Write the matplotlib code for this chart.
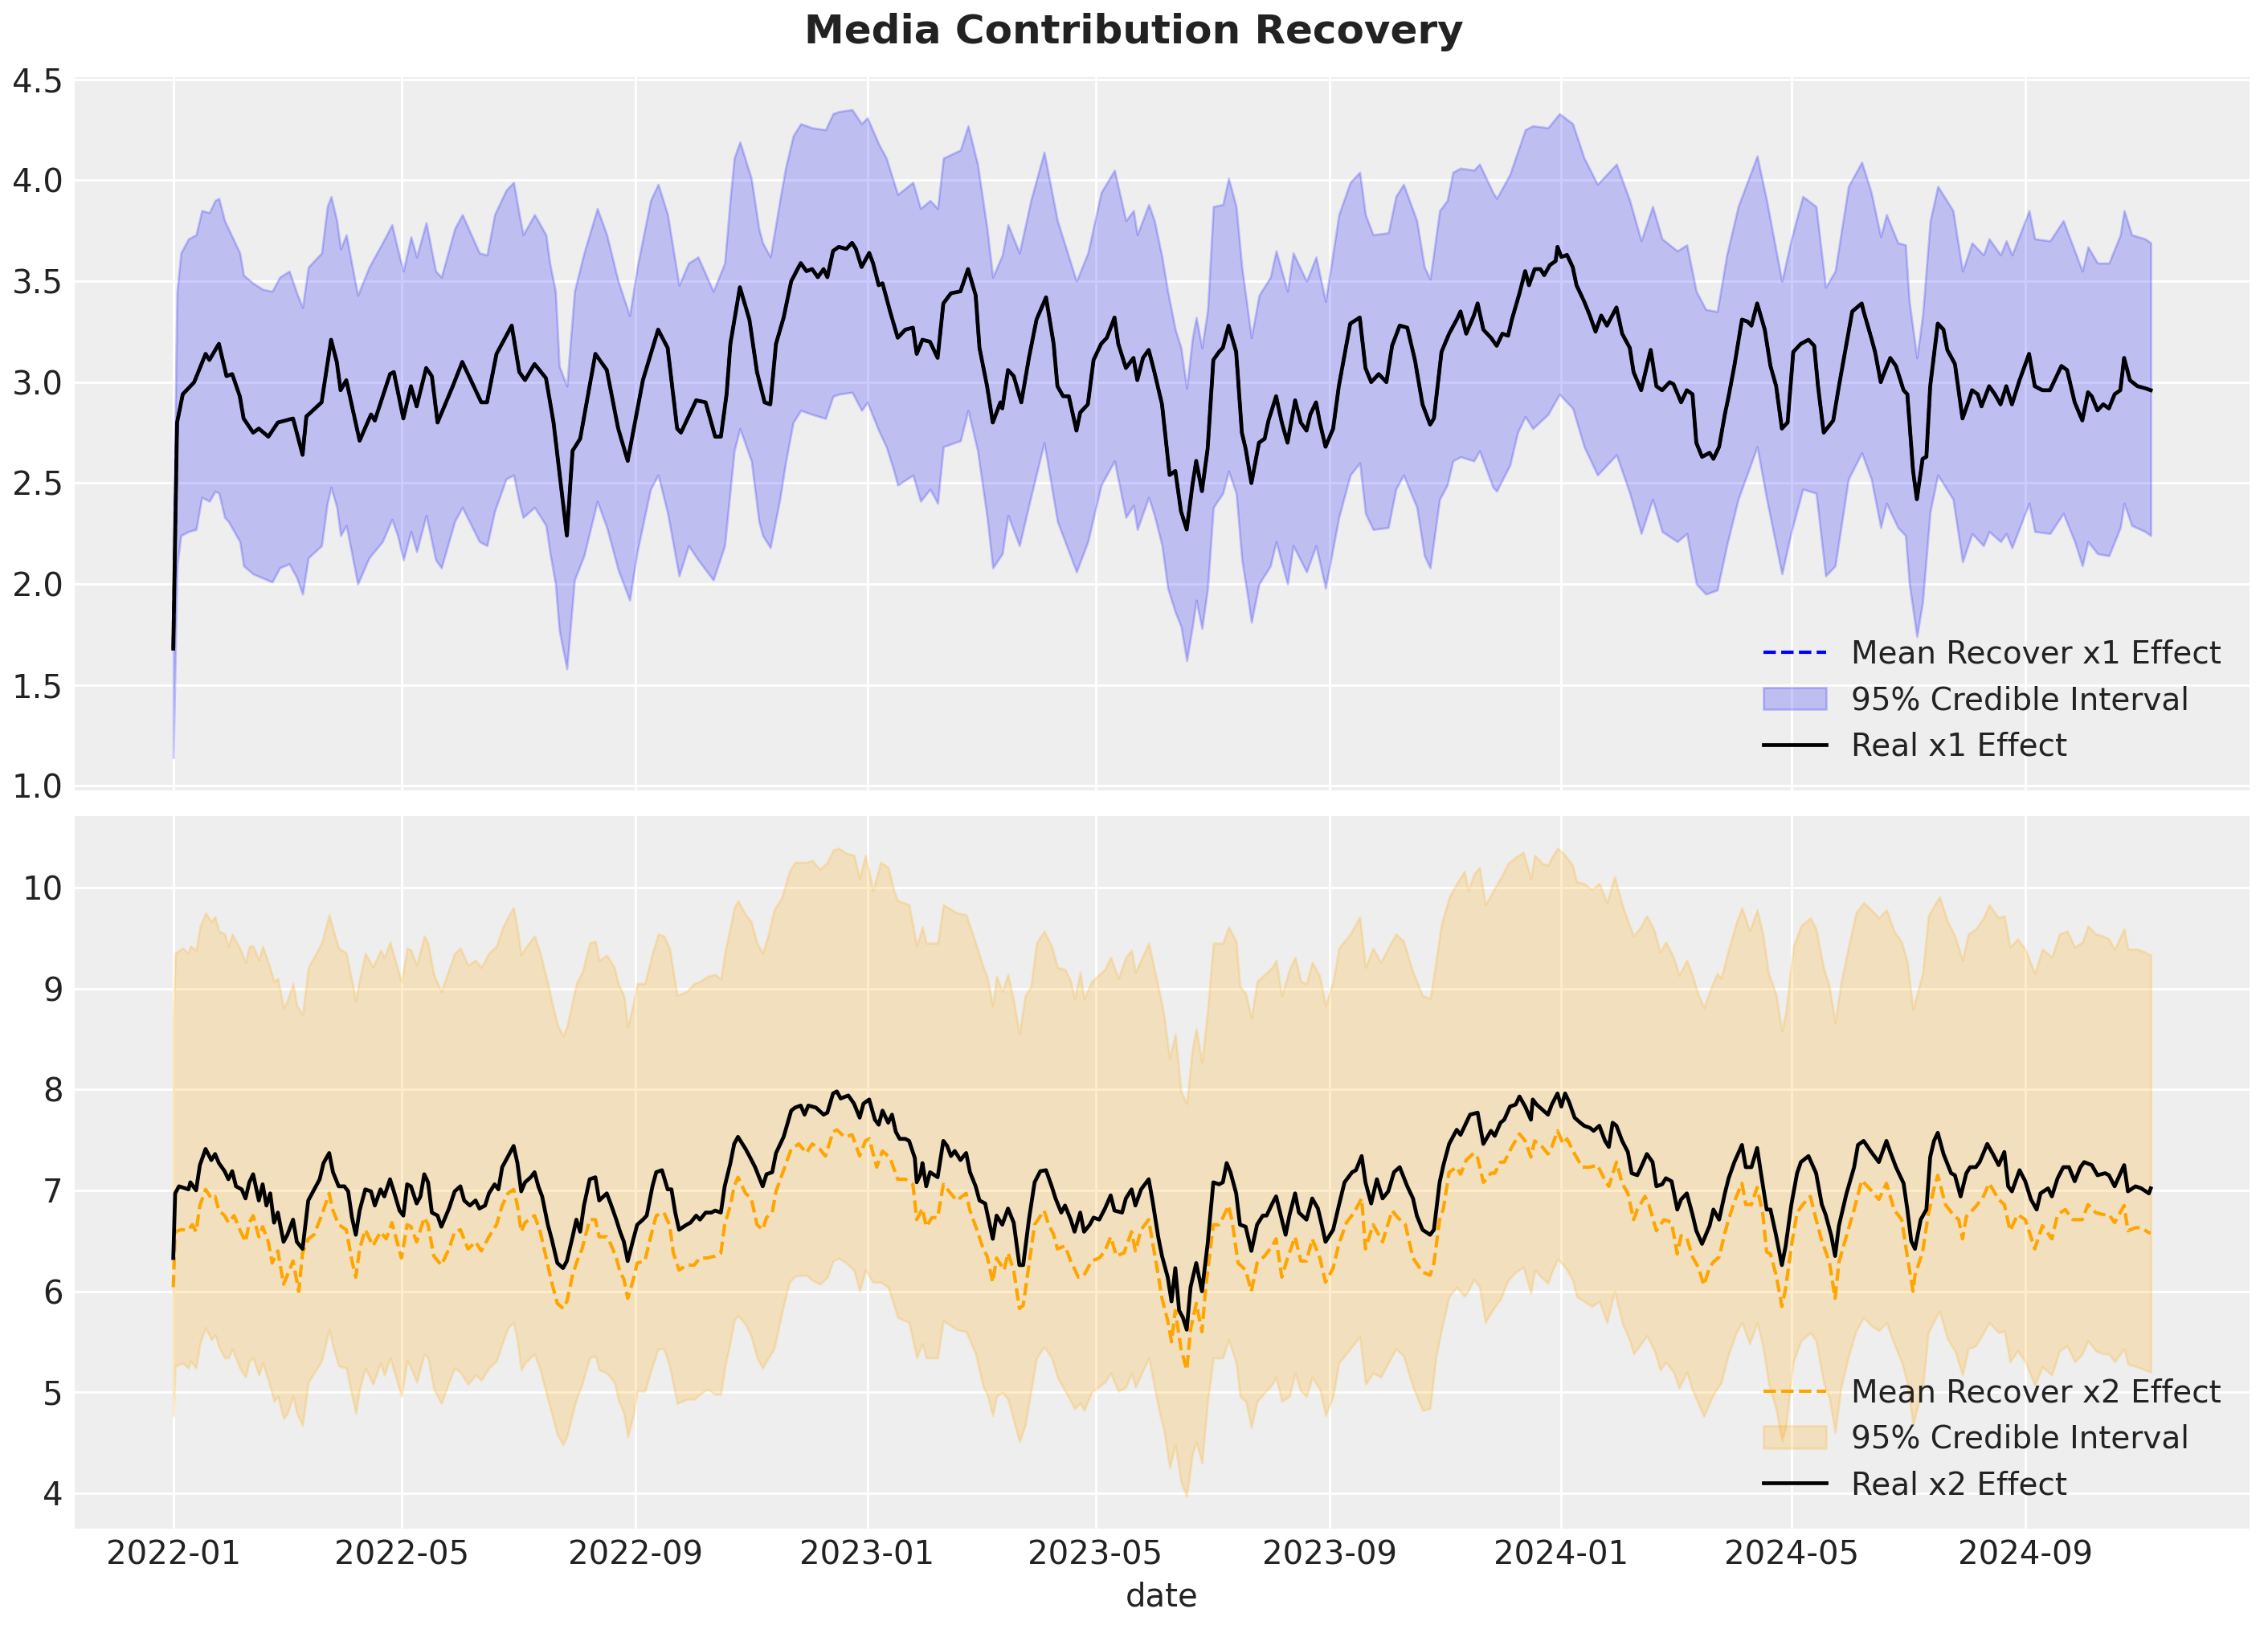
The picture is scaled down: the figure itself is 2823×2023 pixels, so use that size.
import numpy as np
import matplotlib
matplotlib.use("Agg")
import matplotlib.pyplot as plt
import matplotlib.dates as mdates

# values: (day since 2022-01-01, value)
start_date = np.datetime64("2022-01-01")

x1_real = [
    (0, 1.68), (2, 2.80), (5, 2.94), (11, 3.00), (17, 3.14), (19, 3.11), (24, 3.19), (28, 3.03),
    (31, 3.04), (35, 2.93), (37, 2.82), (42, 2.75), (45, 2.77), (50, 2.73), (55, 2.80), (63, 2.82),
    (68, 2.64), (70, 2.83), (78, 2.90), (83, 3.21), (86, 3.10), (88, 2.96), (91, 3.01), (98, 2.71),
    (104, 2.84), (106, 2.81), (114, 3.04), (116, 3.05), (121, 2.82), (125, 2.98), (128, 2.88),
    (133, 3.07), (136, 3.03), (139, 2.80), (147, 2.98), (152, 3.10), (162, 2.90), (165, 2.90),
    (170, 3.14), (178, 3.28), (182, 3.05), (185, 3.01), (190, 3.09), (196, 3.02), (200, 2.80),
    (207, 2.24), (210, 2.66), (214, 2.72), (222, 3.14), (228, 3.06), (234, 2.77), (239, 2.61),
    (247, 3.01), (255, 3.26), (260, 3.17), (265, 2.77), (267, 2.75), (275, 2.91), (280, 2.90),
    (285, 2.73), (288, 2.73), (291, 2.94), (293, 3.19), (298, 3.47), (303, 3.31), (307, 3.05),
    (311, 2.90), (314, 2.89), (317, 3.19), (321, 3.32), (325, 3.50), (330, 3.59), (333, 3.55),
    (336, 3.56), (339, 3.52), (342, 3.56), (344, 3.52), (347, 3.65), (350, 3.67), (354, 3.66),
    (357, 3.69), (359, 3.66), (362, 3.57), (366, 3.64), (368, 3.59), (371, 3.48), (373, 3.49),
    (377, 3.35), (381, 3.22), (385, 3.26), (389, 3.27), (391, 3.14), (394, 3.21), (398, 3.20),
    (402, 3.12), (405, 3.39), (409, 3.44), (414, 3.45), (418, 3.56), (422, 3.43), (424, 3.17),
    (428, 2.98), (431, 2.80), (435, 2.90), (436, 2.87), (439, 3.06), (442, 3.03), (446, 2.90),
    (450, 3.12), (454, 3.31), (459, 3.42), (463, 3.19), (465, 2.98), (468, 2.93), (471, 2.93),
    (475, 2.76), (477, 2.85), (481, 2.89), (484, 3.11), (488, 3.19), (491, 3.22), (495, 3.32),
    (497, 3.19), (501, 3.07), (505, 3.12), (507, 3.01), (510, 3.12), (513, 3.16), (516, 3.05),
    (520, 2.89), (524, 2.54), (527, 2.56), (530, 2.36), (533, 2.27), (536, 2.49), (538, 2.61),
    (541, 2.46), (544, 2.67), (547, 3.11), (550, 3.15), (552, 3.17), (555, 3.28), (559, 3.15),
    (562, 2.75), (564, 2.67), (567, 2.50), (571, 2.70), (574, 2.72), (576, 2.81), (580, 2.93),
    (583, 2.80), (586, 2.70), (590, 2.91), (593, 2.80), (596, 2.76), (598, 2.84), (601, 2.90),
    (603, 2.80), (606, 2.68), (610, 2.77), (613, 2.98), (619, 3.29), (624, 3.32), (627, 3.07),
    (630, 3.00), (634, 3.04), (638, 3.00), (641, 3.18), (645, 3.28), (649, 3.27), (653, 3.11),
    (657, 2.89), (661, 2.79), (663, 2.82), (667, 3.15), (671, 3.24), (675, 3.31), (677, 3.35),
    (680, 3.24), (684, 3.33), (686, 3.39), (689, 3.26), (693, 3.22), (696, 3.18), (699, 3.24),
    (702, 3.23), (704, 3.31), (708, 3.44), (711, 3.55), (713, 3.48), (716, 3.56), (719, 3.56),
    (721, 3.53), (724, 3.58), (727, 3.60), (728, 3.67), (730, 3.62), (733, 3.63), (736, 3.57),
    (738, 3.48), (742, 3.40), (745, 3.33), (748, 3.25), (751, 3.33), (754, 3.28), (759, 3.37),
    (762, 3.24), (766, 3.17), (768, 3.05), (772, 2.96), (774, 3.04), (777, 3.16), (780, 2.98),
    (783, 2.96), (787, 3.00), (789, 2.99), (793, 2.90), (796, 2.96), (799, 2.94), (801, 2.70),
    (804, 2.63), (808, 2.65), (810, 2.62), (813, 2.68), (816, 2.84), (818, 2.93), (821, 3.08),
    (825, 3.31), (828, 3.30), (830, 3.28), (833, 3.39), (837, 3.26), (840, 3.08), (843, 2.98),
    (846, 2.77), (849, 2.80), (852, 3.15), (856, 3.19), (860, 3.21), (863, 3.18), (865, 2.98),
    (868, 2.75), (873, 2.81), (876, 2.98), (880, 3.19), (883, 3.35), (888, 3.39), (889, 3.35),
    (893, 3.22), (895, 3.15), (898, 3.00), (900, 3.05), (903, 3.12), (906, 3.08), (910, 2.96),
    (912, 2.94), (915, 2.56), (917, 2.42), (920, 2.62), (922, 2.63), (924, 2.98), (928, 3.29),
    (931, 3.26), (933, 3.16), (937, 3.09), (941, 2.82), (944, 2.90), (946, 2.96), (949, 2.94),
    (951, 2.88), (955, 2.98), (958, 2.94), (961, 2.89), (964, 2.98), (967, 2.89), (971, 3.01),
    (976, 3.14), (979, 2.98), (983, 2.96), (987, 2.96), (990, 3.02), (993, 3.08), (996, 3.06),
    (1000, 2.90), (1004, 2.81), (1007, 2.95), (1009, 2.93), (1012, 2.86), (1015, 2.89),
    (1018, 2.87), (1021, 2.94), (1024, 2.96), (1026, 3.12), (1029, 3.01), (1033, 2.98),
    (1037, 2.97), (1040, 2.96),
]

# the posterior mean of x1 sits on top of the real curve at this resolution
x1_mean = list(x1_real)

# (day, lower, upper)
x1_band = [
    (0, 1.14, 2.25), (2, 2.09, 3.45), (4, 2.24, 3.64), (8, 2.26, 3.71), (12, 2.27, 3.73),
    (15, 2.43, 3.85), (19, 2.41, 3.84), (22, 2.46, 3.90), (24, 2.45, 3.91), (27, 2.33, 3.80),
    (29, 2.31, 3.76), (35, 2.21, 3.64), (37, 2.09, 3.53), (42, 2.05, 3.49), (47, 2.03, 3.46),
    (52, 2.01, 3.45), (56, 2.08, 3.52), (61, 2.10, 3.55), (65, 2.03, 3.44), (68, 1.95, 3.37),
    (71, 2.13, 3.57), (78, 2.19, 3.64), (81, 2.40, 3.87), (83, 2.48, 3.92), (86, 2.38, 3.80),
    (88, 2.24, 3.66), (91, 2.29, 3.73), (97, 2.00, 3.43), (103, 2.13, 3.57), (110, 2.21, 3.69),
    (115, 2.32, 3.78), (118, 2.24, 3.66), (121, 2.12, 3.55), (125, 2.26, 3.72), (128, 2.16, 3.62),
    (133, 2.34, 3.79), (138, 2.12, 3.55), (141, 2.08, 3.52), (148, 2.31, 3.76), (152, 2.38, 3.83),
    (161, 2.21, 3.64), (165, 2.19, 3.63), (169, 2.36, 3.83), (175, 2.52, 3.95), (179, 2.54, 3.99),
    (182, 2.40, 3.83), (184, 2.33, 3.73), (190, 2.38, 3.83), (196, 2.29, 3.73), (198, 2.16, 3.59),
    (201, 2.00, 3.45), (203, 1.77, 3.08), (207, 1.58, 2.98), (211, 2.02, 3.45), (216, 2.14, 3.64),
    (223, 2.41, 3.86), (228, 2.28, 3.73), (234, 2.07, 3.50), (240, 1.92, 3.33), (244, 2.16, 3.57),
    (251, 2.47, 3.90), (255, 2.54, 3.98), (260, 2.35, 3.83), (266, 2.04, 3.48), (271, 2.19, 3.59),
    (276, 2.12, 3.62), (284, 2.02, 3.45), (290, 2.19, 3.59), (293, 2.47, 3.92), (295, 2.66, 4.11),
    (298, 2.77, 4.19), (304, 2.61, 4.01), (308, 2.31, 3.76), (310, 2.24, 3.69), (314, 2.18, 3.62),
    (319, 2.42, 3.90), (322, 2.60, 4.06), (326, 2.80, 4.22), (330, 2.86, 4.28), (336, 2.84, 4.26),
    (343, 2.82, 4.25), (347, 2.93, 4.33), (350, 2.94, 4.34), (357, 2.95, 4.35), (362, 2.86, 4.28),
    (365, 2.90, 4.31), (371, 2.76, 4.18), (375, 2.68, 4.11), (379, 2.56, 3.99), (381, 2.49, 3.93),
    (389, 2.54, 3.99), (393, 2.41, 3.86), (398, 2.47, 3.90), (402, 2.40, 3.86), (405, 2.68, 4.11),
    (414, 2.71, 4.15), (418, 2.86, 4.27), (423, 2.66, 4.08), (428, 2.33, 3.76), (431, 2.08, 3.52),
    (436, 2.15, 3.63), (439, 2.34, 3.78), (445, 2.19, 3.64), (451, 2.43, 3.90), (458, 2.70, 4.14),
    (465, 2.31, 3.80), (475, 2.06, 3.50), (481, 2.21, 3.64), (488, 2.49, 3.94), (495, 2.61, 4.05),
    (501, 2.33, 3.80), (505, 2.39, 3.85), (507, 2.27, 3.73), (513, 2.43, 3.88), (516, 2.34, 3.80),
    (520, 2.19, 3.62), (523, 1.98, 3.45), (527, 1.86, 3.26), (530, 1.79, 3.17), (533, 1.62, 2.97),
    (536, 1.79, 3.22), (538, 1.92, 3.32), (541, 1.78, 3.17), (544, 1.98, 3.36), (547, 2.38, 3.87),
    (552, 2.45, 3.88), (555, 2.56, 4.01), (559, 2.45, 3.87), (562, 2.12, 3.57), (565, 1.94, 3.36),
    (567, 1.81, 3.22), (571, 2.00, 3.43), (577, 2.09, 3.52), (580, 2.21, 3.65), (586, 2.00, 3.45),
    (589, 2.19, 3.64), (596, 2.06, 3.50), (601, 2.19, 3.62), (606, 1.98, 3.40), (613, 2.33, 3.83),
    (619, 2.54, 3.99), (624, 2.60, 4.04), (627, 2.35, 3.83), (631, 2.27, 3.73), (639, 2.28, 3.74),
    (643, 2.47, 3.92), (647, 2.54, 3.98), (654, 2.38, 3.80), (658, 2.14, 3.57), (661, 2.08, 3.51),
    (666, 2.42, 3.85), (670, 2.49, 3.90), (673, 2.61, 4.04), (677, 2.63, 4.06), (684, 2.61, 4.05),
    (687, 2.66, 4.08), (694, 2.48, 3.94), (696, 2.46, 3.91), (703, 2.59, 4.03), (707, 2.75, 4.14),
    (711, 2.83, 4.25), (715, 2.77, 4.27), (723, 2.84, 4.26), (729, 2.94, 4.33), (736, 2.87, 4.28),
    (742, 2.68, 4.11), (749, 2.54, 3.98), (759, 2.64, 4.08), (766, 2.45, 3.90), (772, 2.25, 3.70),
    (778, 2.42, 3.87), (783, 2.26, 3.71), (791, 2.21, 3.65), (796, 2.25, 3.68), (801, 2.00, 3.45),
    (806, 1.95, 3.36), (812, 1.97, 3.35), (817, 2.19, 3.63), (823, 2.42, 3.87), (833, 2.68, 4.12),
    (838, 2.42, 3.90), (846, 2.05, 3.50), (851, 2.26, 3.71), (857, 2.47, 3.92), (864, 2.45, 3.87),
    (869, 2.04, 3.47), (874, 2.09, 3.55), (881, 2.52, 3.97), (888, 2.65, 4.09), (893, 2.52, 3.94),
    (898, 2.28, 3.72), (901, 2.40, 3.83), (907, 2.28, 3.69), (911, 2.24, 3.68), (913, 2.00, 3.40),
    (917, 1.74, 3.12), (920, 1.91, 3.33), (924, 2.36, 3.80), (928, 2.54, 3.97), (936, 2.42, 3.85),
    (941, 2.11, 3.55), (946, 2.25, 3.69), (952, 2.19, 3.63), (955, 2.26, 3.71), (961, 2.21, 3.63),
    (964, 2.25, 3.70), (967, 2.18, 3.63), (976, 2.40, 3.85), (979, 2.26, 3.71), (987, 2.25, 3.70),
    (994, 2.35, 3.80), (1000, 2.21, 3.65), (1004, 2.09, 3.55), (1007, 2.21, 3.67), (1012, 2.15, 3.59),
    (1018, 2.14, 3.59), (1024, 2.28, 3.73), (1026, 2.40, 3.85), (1030, 2.29, 3.73), (1037, 2.26, 3.71),
    (1040, 2.24, 3.69),
]

x2_real = [
    (0, 6.33), (1, 6.97), (3, 7.04), (8, 7.01), (9, 7.08), (12, 7.00), (14, 7.25), (17, 7.41),
    (20, 7.30), (22, 7.36), (24, 7.27), (27, 7.19), (29, 7.11), (31, 7.19), (33, 7.04), (36, 7.01),
    (38, 6.92), (40, 7.08), (42, 7.16), (45, 6.90), (47, 7.06), (49, 6.85), (51, 6.97), (53, 6.68),
    (55, 6.78), (58, 6.49), (60, 6.56), (63, 6.71), (65, 6.49), (68, 6.42), (71, 6.90), (73, 6.97),
    (77, 7.11), (79, 7.27), (82, 7.37), (84, 7.18), (87, 7.04), (90, 7.04), (92, 6.99), (94, 6.73),
    (96, 6.56), (98, 6.80), (101, 7.01), (104, 6.99), (106, 6.85), (109, 7.01), (111, 6.94),
    (114, 7.11), (116, 6.99), (119, 6.80), (121, 6.75), (123, 7.06), (125, 7.04), (128, 6.87),
    (130, 6.94), (132, 7.16), (134, 7.08), (136, 6.78), (139, 6.75), (141, 6.64), (145, 6.82),
    (148, 6.99), (151, 7.04), (153, 6.90), (156, 6.85), (159, 6.90), (161, 6.82), (164, 6.85),
    (166, 6.97), (169, 7.06), (171, 7.01), (173, 7.23), (175, 7.30), (177, 7.37), (179, 7.44),
    (181, 7.27), (183, 6.99), (185, 7.08), (188, 7.13), (190, 7.18), (192, 7.04), (194, 6.94),
    (197, 6.66), (199, 6.52), (202, 6.28), (205, 6.23), (207, 6.30), (210, 6.54), (212, 6.71),
    (214, 6.59), (216, 6.85), (219, 7.11), (222, 7.13), (224, 6.90), (228, 6.97), (230, 6.87),
    (233, 6.71), (235, 6.59), (237, 6.49), (239, 6.30), (242, 6.52), (244, 6.66), (247, 6.71),
    (249, 6.75), (252, 7.04), (254, 7.18), (257, 7.20), (260, 7.01), (262, 7.01), (264, 6.78),
    (266, 6.61), (270, 6.66), (272, 6.68), (275, 6.75), (277, 6.71), (280, 6.78), (283, 6.78),
    (285, 6.80), (288, 6.78), (290, 7.04), (293, 7.27), (295, 7.46), (297, 7.53), (301, 7.41),
    (303, 7.34), (306, 7.23), (310, 7.04), (312, 7.16), (315, 7.18), (317, 7.37), (321, 7.53),
    (325, 7.79), (327, 7.82), (330, 7.84), (332, 7.75), (334, 7.84), (338, 7.82), (342, 7.75),
    (344, 7.77), (347, 7.96), (349, 7.98), (351, 7.91), (355, 7.94), (358, 7.86), (361, 7.72),
    (363, 7.86), (366, 7.90), (369, 7.70), (371, 7.65), (373, 7.79), (376, 7.67), (378, 7.75),
    (380, 7.58), (382, 7.51), (385, 7.51), (387, 7.49), (390, 7.32), (391, 7.08), (393, 7.16),
    (394, 7.27), (396, 7.04), (398, 7.18), (402, 7.13), (405, 7.49), (407, 7.44), (409, 7.34),
    (411, 7.39), (414, 7.30), (417, 7.37), (419, 7.18), (422, 7.04), (424, 6.90), (427, 6.87),
    (428, 6.78), (431, 6.52), (433, 6.75), (436, 6.66), (439, 6.82), (442, 6.68), (445, 6.26),
    (447, 6.26), (450, 6.71), (453, 7.08), (456, 7.19), (459, 7.20), (462, 7.04), (464, 6.92),
    (467, 6.78), (469, 6.85), (472, 6.71), (474, 6.59), (477, 6.78), (479, 6.59), (482, 6.66),
    (484, 6.73), (487, 6.71), (490, 6.82), (493, 6.95), (495, 6.80), (499, 6.78), (501, 6.92),
    (504, 7.01), (506, 6.85), (509, 7.01), (513, 7.11), (515, 6.90), (518, 6.54), (520, 6.35),
    (523, 6.14), (525, 5.90), (527, 6.23), (529, 5.81), (531, 5.74), (533, 5.62), (535, 6.04),
    (538, 6.28), (541, 6.00), (544, 6.47), (547, 7.08), (550, 7.06), (552, 7.08), (554, 7.27),
    (556, 7.18), (559, 6.97), (561, 6.66), (564, 6.64), (567, 6.40), (570, 6.66), (573, 6.75),
    (575, 6.75), (578, 6.87), (580, 6.94), (583, 6.71), (585, 6.56), (587, 6.75), (590, 6.97),
    (592, 6.78), (596, 6.71), (599, 6.92), (602, 6.82), (604, 6.66), (606, 6.49), (610, 6.61),
    (613, 6.85), (616, 7.08), (620, 7.18), (622, 7.20), (625, 7.34), (627, 7.08), (630, 6.87),
    (633, 7.11), (636, 6.92), (639, 6.99), (642, 7.18), (645, 7.23), (649, 7.04), (652, 6.92),
    (654, 6.75), (657, 6.61), (661, 6.56), (663, 6.61), (666, 7.08), (668, 7.25), (671, 7.46),
    (675, 7.60), (677, 7.55), (680, 7.67), (682, 7.75), (686, 7.77), (689, 7.46), (693, 7.59),
    (695, 7.54), (698, 7.67), (700, 7.70), (703, 7.83), (706, 7.85), (708, 7.93), (711, 7.83),
    (714, 7.70), (715, 7.90), (717, 7.85), (720, 7.80), (723, 7.75), (725, 7.85), (728, 7.96),
    (730, 7.83), (732, 7.96), (734, 7.88), (737, 7.72), (740, 7.67), (742, 7.64), (745, 7.62),
    (747, 7.59), (750, 7.64), (753, 7.49), (755, 7.43), (757, 7.67), (759, 7.64), (762, 7.49),
    (765, 7.38), (767, 7.17), (770, 7.15), (772, 7.23), (775, 7.36), (778, 7.28), (780, 7.04),
    (783, 7.06), (785, 7.12), (788, 7.09), (791, 6.81), (793, 6.91), (796, 6.97), (799, 6.76),
    (801, 6.60), (804, 6.47), (808, 6.65), (810, 6.81), (813, 6.71), (816, 6.97), (818, 7.12),
    (821, 7.28), (825, 7.45), (827, 7.23), (830, 7.23), (833, 7.42), (835, 7.17), (838, 6.81),
    (840, 6.81), (843, 6.55), (846, 6.26), (848, 6.45), (851, 6.86), (854, 7.17), (856, 7.28),
    (860, 7.34), (864, 7.17), (867, 6.86), (869, 6.76), (872, 6.55), (874, 6.35), (876, 6.65),
    (880, 6.97), (884, 7.23), (886, 7.45), (889, 7.49), (893, 7.38), (897, 7.28), (901, 7.49),
    (903, 7.38), (906, 7.23), (910, 7.07), (912, 6.81), (914, 6.50), (916, 6.42), (919, 6.71),
    (922, 6.81), (924, 7.33), (926, 7.49), (928, 7.57), (931, 7.36), (935, 7.17), (937, 7.15),
    (940, 6.94), (943, 7.17), (945, 7.23), (948, 7.23), (950, 7.28), (954, 7.46), (957, 7.36),
    (960, 7.25), (963, 7.38), (965, 7.04), (967, 6.99), (971, 7.20), (974, 7.09), (977, 6.91),
    (980, 6.81), (982, 6.97), (986, 7.02), (988, 6.94), (991, 7.12), (994, 7.23), (997, 7.23),
    (1000, 7.09), (1003, 7.23), (1005, 7.28), (1009, 7.25), (1012, 7.15), (1016, 7.17),
    (1018, 7.15), (1021, 7.04), (1026, 7.25), (1028, 6.99), (1032, 7.04), (1035, 7.02),
    (1039, 6.97), (1040, 7.02),
]

x2_mean = [
    (0, 6.04), (1, 6.59), (4, 6.61), (8, 6.61), (10, 6.66), (12, 6.59), (14, 6.85), (17, 7.01),
    (20, 6.92), (22, 6.94), (24, 6.80), (27, 6.75), (29, 6.68), (32, 6.75), (35, 6.61), (38, 6.49),
    (40, 6.68), (42, 6.75), (45, 6.54), (47, 6.64), (50, 6.49), (52, 6.28), (55, 6.40), (58, 6.07),
    (60, 6.16), (63, 6.30), (66, 6.00), (68, 6.38), (71, 6.52), (74, 6.56), (78, 6.75), (82, 6.97),
    (84, 6.80), (87, 6.66), (91, 6.61), (94, 6.30), (96, 6.14), (98, 6.42), (101, 6.61), (105, 6.45),
    (109, 6.59), (112, 6.52), (115, 6.68), (118, 6.47), (120, 6.33), (123, 6.66), (125, 6.64),
    (128, 6.49), (132, 6.73), (134, 6.66), (137, 6.35), (141, 6.26), (145, 6.42), (148, 6.59),
    (151, 6.61), (155, 6.42), (159, 6.49), (162, 6.40), (166, 6.54), (170, 6.66), (173, 6.85),
    (176, 6.97), (179, 7.01), (181, 6.85), (183, 6.59), (185, 6.68), (190, 6.75), (193, 6.59),
    (197, 6.26), (199, 6.09), (202, 5.88), (205, 5.83), (207, 5.90), (210, 6.16), (212, 6.28),
    (215, 6.42), (219, 6.71), (222, 6.71), (224, 6.54), (228, 6.54), (230, 6.47), (233, 6.33),
    (235, 6.19), (237, 6.12), (239, 5.93), (242, 6.12), (244, 6.28), (248, 6.30), (252, 6.61),
    (254, 6.75), (258, 6.78), (261, 6.66), (263, 6.38), (266, 6.21), (270, 6.26), (274, 6.26),
    (277, 6.33), (281, 6.33), (285, 6.35), (288, 6.38), (290, 6.66), (293, 6.85), (295, 7.04),
    (297, 7.13), (301, 6.97), (304, 6.92), (307, 6.66), (310, 6.61), (312, 6.73), (315, 6.78),
    (317, 6.99), (321, 7.20), (325, 7.41), (329, 7.46), (333, 7.37), (336, 7.46), (340, 7.41),
    (343, 7.34), (347, 7.58), (349, 7.60), (353, 7.53), (357, 7.55), (361, 7.34), (364, 7.49),
    (366, 7.51), (370, 7.23), (373, 7.39), (377, 7.32), (381, 7.11), (385, 7.11), (389, 7.06),
    (391, 6.71), (394, 6.82), (396, 6.64), (399, 6.73), (402, 6.73), (405, 7.06), (408, 6.99),
    (412, 6.90), (417, 6.97), (419, 6.80), (423, 6.59), (426, 6.42), (428, 6.35), (431, 6.09),
    (433, 6.33), (437, 6.21), (439, 6.38), (442, 6.21), (445, 5.83), (447, 5.86), (450, 6.26),
    (453, 6.66), (458, 6.80), (460, 6.68), (463, 6.56), (465, 6.42), (469, 6.45), (472, 6.30),
    (476, 6.14), (479, 6.16), (483, 6.30), (487, 6.33), (490, 6.40), (493, 6.54), (496, 6.35),
    (500, 6.38), (504, 6.59), (506, 6.40), (509, 6.61), (513, 6.71), (515, 6.49), (518, 6.16),
    (520, 5.93), (523, 5.71), (525, 5.50), (527, 5.81), (530, 5.43), (533, 5.22), (535, 5.62),
    (538, 5.88), (541, 5.60), (543, 6.04), (547, 6.66), (550, 6.66), (552, 6.73), (555, 6.85),
    (557, 6.68), (560, 6.28), (564, 6.21), (567, 6.00), (570, 6.28), (574, 6.35), (578, 6.45),
    (580, 6.52), (583, 6.14), (586, 6.33), (590, 6.54), (593, 6.30), (596, 6.30), (599, 6.52),
    (603, 6.33), (606, 6.09), (610, 6.23), (613, 6.47), (617, 6.68), (621, 6.78), (625, 6.92),
    (627, 6.42), (631, 6.66), (634, 6.56), (636, 6.49), (641, 6.80), (644, 6.73), (648, 6.66),
    (652, 6.33), (657, 6.19), (661, 6.16), (663, 6.28), (666, 6.71), (668, 6.82), (671, 7.18),
    (675, 7.23), (677, 7.16), (680, 7.30), (684, 7.37), (686, 7.32), (689, 7.08), (690, 7.10),
    (693, 7.17), (695, 7.17), (698, 7.28), (700, 7.28), (704, 7.43), (708, 7.56), (711, 7.49),
    (714, 7.33), (716, 7.49), (720, 7.43), (723, 7.36), (725, 7.43), (728, 7.59), (731, 7.46),
    (733, 7.51), (737, 7.36), (741, 7.23), (745, 7.23), (749, 7.25), (753, 7.10), (755, 7.04),
    (759, 7.28), (762, 7.07), (765, 6.97), (768, 6.71), (770, 6.81), (774, 6.94), (776, 6.86),
    (780, 6.60), (784, 6.71), (788, 6.68), (791, 6.37), (793, 6.55), (796, 6.53), (799, 6.34),
    (802, 6.24), (805, 6.06), (808, 6.24), (810, 6.29), (813, 6.34), (816, 6.58), (818, 6.71),
    (821, 6.89), (825, 7.07), (827, 6.86), (830, 6.86), (833, 7.03), (836, 6.76), (838, 6.39),
    (840, 6.37), (843, 6.16), (846, 5.85), (848, 6.03), (851, 6.45), (854, 6.78), (857, 6.86),
    (861, 6.94), (864, 6.71), (867, 6.50), (871, 6.29), (874, 5.93), (876, 6.29), (880, 6.55),
    (884, 6.81), (888, 7.10), (892, 7.02), (897, 6.91), (901, 7.07), (905, 6.81), (909, 6.71),
    (912, 6.34), (915, 6.00), (916, 6.16), (920, 6.39), (923, 6.76), (926, 7.02), (928, 7.15),
    (932, 6.86), (936, 6.76), (939, 6.71), (941, 6.52), (943, 6.74), (948, 6.84), (952, 6.94),
    (955, 7.07), (960, 6.91), (963, 6.86), (966, 6.60), (970, 6.76), (974, 6.71), (979, 6.42),
    (983, 6.65), (988, 6.52), (991, 6.76), (995, 6.81), (999, 6.71), (1004, 6.71), (1007, 6.86),
    (1011, 6.78), (1015, 6.76), (1018, 6.76), (1021, 6.68), (1026, 6.85), (1028, 6.60),
    (1032, 6.63), (1035, 6.63), (1039, 6.58), (1040, 6.58),
]

# (day, lower, upper)
x2_band = [
    (0, 4.77, 8.70), (1, 5.26, 9.35), (5, 5.29, 9.40), (8, 5.24, 9.35), (9, 5.31, 9.42),
    (12, 5.24, 9.38), (14, 5.48, 9.61), (17, 5.64, 9.75), (20, 5.52, 9.66), (22, 5.57, 9.71),
    (24, 5.45, 9.57), (27, 5.34, 9.54), (29, 5.34, 9.42), (31, 5.43, 9.54), (35, 5.24, 9.40),
    (38, 5.15, 9.26), (40, 5.31, 9.42), (42, 5.34, 9.42), (45, 5.17, 9.28), (47, 5.29, 9.42),
    (50, 5.12, 9.26), (53, 4.91, 9.07), (55, 4.96, 9.10), (58, 4.74, 8.81), (60, 4.79, 8.88),
    (63, 4.96, 9.05), (65, 4.79, 8.83), (68, 4.67, 8.74), (71, 5.10, 9.21), (74, 5.19, 9.31),
    (78, 5.31, 9.45), (82, 5.62, 9.73), (84, 5.45, 9.59), (87, 5.26, 9.40), (91, 5.24, 9.35),
    (94, 4.96, 9.07), (96, 4.79, 8.88), (98, 5.03, 9.09), (101, 5.24, 9.35), (105, 5.08, 9.21),
    (109, 5.29, 9.38), (111, 5.17, 9.31), (114, 5.34, 9.46), (117, 5.15, 9.26), (120, 4.96, 9.07),
    (123, 5.31, 9.40), (125, 5.24, 9.38), (128, 5.10, 9.23), (132, 5.38, 9.52), (134, 5.34, 9.45),
    (137, 5.03, 9.14), (141, 4.89, 8.97), (145, 5.10, 9.19), (148, 5.24, 9.35), (151, 5.20, 9.40),
    (155, 5.08, 9.23), (159, 5.17, 9.28), (162, 5.12, 9.21), (166, 5.24, 9.35), (170, 5.31, 9.42),
    (173, 5.48, 9.59), (176, 5.64, 9.71), (179, 5.69, 9.80), (181, 5.50, 9.59), (183, 5.22, 9.33),
    (185, 5.29, 9.40), (190, 5.38, 9.52), (193, 5.22, 9.35), (197, 4.93, 9.05), (199, 4.79, 8.88),
    (202, 4.58, 8.64), (205, 4.48, 8.53), (207, 4.56, 8.62), (210, 4.79, 8.88), (212, 4.93, 9.05),
    (215, 5.08, 9.16), (219, 5.34, 9.45), (222, 5.36, 9.47), (224, 5.22, 9.28), (228, 5.19, 9.33),
    (232, 5.10, 9.21), (234, 4.93, 9.05), (237, 4.79, 8.93), (239, 4.56, 8.62), (242, 4.77, 8.86),
    (244, 5.01, 9.05), (248, 5.01, 9.05), (252, 5.26, 9.35), (255, 5.43, 9.54), (258, 5.43, 9.52),
    (261, 5.26, 9.40), (265, 4.89, 8.93), (270, 4.93, 8.97), (274, 4.93, 9.05), (277, 4.98, 9.07),
    (281, 5.03, 9.12), (285, 4.98, 9.14), (288, 4.98, 9.09), (290, 5.24, 9.35), (293, 5.50, 9.61),
    (295, 5.71, 9.80), (297, 5.76, 9.87), (301, 5.67, 9.73), (304, 5.55, 9.66), (307, 5.34, 9.45),
    (310, 5.24, 9.35), (313, 5.34, 9.54), (316, 5.43, 9.78), (320, 5.78, 9.90), (324, 6.09, 10.16),
    (327, 6.15, 10.25), (333, 6.16, 10.25), (336, 6.11, 10.27), (340, 6.07, 10.18), (344, 6.14, 10.25),
    (347, 6.30, 10.37), (350, 6.33, 10.39), (354, 6.28, 10.34), (358, 6.21, 10.32), (361, 6.00, 10.09),
    (364, 6.21, 10.32), (368, 6.09, 9.97), (372, 6.09, 10.25), (376, 6.04, 10.20), (379, 5.86, 9.97),
    (381, 5.74, 9.87), (387, 5.69, 9.83), (391, 5.34, 9.42), (394, 5.48, 9.61), (396, 5.34, 9.45),
    (402, 5.34, 9.45), (405, 5.71, 9.83), (412, 5.62, 9.75), (417, 5.60, 9.73), (422, 5.38, 9.45),
    (426, 5.05, 9.21), (428, 4.98, 9.12), (431, 4.77, 8.83), (433, 4.96, 9.12), (436, 5.00, 8.97),
    (439, 4.93, 9.14), (442, 4.72, 8.88), (445, 4.51, 8.55), (448, 4.67, 8.93), (451, 5.00, 9.02),
    (454, 5.34, 9.45), (458, 5.45, 9.57), (462, 5.34, 9.42), (465, 5.15, 9.21), (469, 5.01, 9.19),
    (472, 4.91, 9.07), (474, 4.84, 8.90), (477, 4.89, 9.16), (479, 4.82, 8.90), (483, 5.00, 9.07),
    (490, 5.10, 9.19), (493, 5.19, 9.31), (497, 5.01, 9.10), (501, 5.05, 9.31), (504, 5.19, 9.38),
    (506, 5.05, 9.16), (513, 5.34, 9.45), (516, 5.05, 9.19), (519, 4.77, 8.93), (521, 4.63, 8.74),
    (524, 4.25, 8.31), (527, 4.48, 8.55), (530, 4.11, 7.98), (533, 3.97, 7.86), (536, 4.39, 8.41),
    (538, 4.51, 8.60), (541, 4.30, 8.27), (544, 4.91, 8.79), (547, 5.34, 9.45), (552, 5.34, 9.45),
    (555, 5.52, 9.61), (559, 5.29, 9.47), (561, 4.96, 9.02), (564, 4.91, 8.95), (567, 4.65, 8.71),
    (570, 4.91, 9.07), (578, 5.08, 9.21), (580, 5.15, 9.28), (583, 4.91, 8.93), (587, 4.96, 9.19),
    (590, 5.19, 9.31), (593, 5.01, 9.07), (596, 4.96, 9.05), (599, 5.15, 9.26), (603, 5.03, 9.12),
    (606, 4.77, 8.83), (610, 4.96, 9.07), (613, 5.29, 9.40), (619, 5.43, 9.54), (624, 5.55, 9.71),
    (627, 5.08, 9.21), (631, 5.19, 9.40), (635, 5.15, 9.26), (639, 5.29, 9.40), (643, 5.43, 9.54),
    (647, 5.36, 9.47), (652, 5.05, 9.16), (657, 4.82, 8.93), (661, 4.84, 8.90), (664, 5.34, 9.26),
    (667, 5.62, 9.64), (671, 5.95, 9.90), (675, 6.04, 10.04), (679, 5.95, 10.16), (681, 6.00, 9.97),
    (684, 6.12, 10.13), (687, 6.04, 10.20), (690, 5.69, 9.83), (694, 5.82, 9.96), (698, 5.92, 10.09),
    (702, 6.11, 10.24), (706, 6.19, 10.30), (710, 6.24, 10.35), (714, 5.98, 10.09), (716, 6.21, 10.32),
    (720, 6.13, 10.24), (723, 6.08, 10.22), (725, 6.19, 10.30), (728, 6.32, 10.39), (732, 6.24, 10.32),
    (736, 6.11, 10.22), (738, 5.95, 10.06), (742, 5.90, 10.04), (746, 5.85, 9.98), (750, 5.90, 10.04),
    (754, 5.69, 9.85), (758, 6.00, 10.11), (762, 5.69, 9.83), (766, 5.51, 9.62), (768, 5.38, 9.52),
    (772, 5.48, 9.62), (775, 5.56, 9.72), (779, 5.41, 9.57), (782, 5.22, 9.36), (785, 5.30, 9.46),
    (789, 5.20, 9.31), (792, 5.04, 9.13), (796, 5.20, 9.28), (799, 5.02, 9.13), (802, 4.89, 8.94),
    (805, 4.76, 8.81), (809, 4.94, 9.02), (812, 5.04, 9.15), (814, 5.09, 9.10), (818, 5.38, 9.39),
    (822, 5.59, 9.65), (825, 5.69, 9.80), (829, 5.48, 9.57), (833, 5.69, 9.78), (836, 5.46, 9.54),
    (839, 5.09, 9.15), (843, 4.83, 8.94), (846, 4.52, 8.58), (848, 4.65, 8.76), (852, 5.30, 9.41),
    (856, 5.51, 9.62), (861, 5.59, 9.70), (864, 5.51, 9.59), (868, 5.09, 9.20), (871, 4.94, 9.02),
    (874, 4.60, 8.66), (877, 5.04, 9.05), (881, 5.35, 9.41), (885, 5.61, 9.75), (889, 5.74, 9.85),
    (893, 5.66, 9.78), (897, 5.61, 9.70), (901, 5.69, 9.78), (905, 5.48, 9.57), (909, 5.30, 9.46),
    (912, 5.09, 9.26), (915, 4.67, 8.79), (917, 4.83, 8.94), (920, 5.04, 9.15), (923, 5.59, 9.72),
    (927, 5.74, 9.85), (929, 5.80, 9.91), (933, 5.53, 9.67), (937, 5.41, 9.52), (941, 5.17, 9.28),
    (944, 5.43, 9.54), (948, 5.46, 9.59), (952, 5.59, 9.70), (955, 5.69, 9.83), (960, 5.59, 9.70),
    (963, 5.61, 9.72), (966, 5.30, 9.41), (970, 5.41, 9.49), (974, 5.30, 9.39), (979, 5.07, 9.15),
    (983, 5.25, 9.39), (988, 5.17, 9.31), (992, 5.41, 9.54), (996, 5.46, 9.57), (1000, 5.30, 9.41),
    (1004, 5.38, 9.46), (1007, 5.51, 9.62), (1011, 5.41, 9.54), (1015, 5.38, 9.52), (1018, 5.38, 9.49),
    (1021, 5.30, 9.39), (1026, 5.43, 9.59), (1028, 5.28, 9.39), (1033, 5.25, 9.39), (1037, 5.22, 9.36),
    (1040, 5.20, 9.33),
]

x1_yticks = [1.0, 1.5, 2.0, 2.5, 3.0, 3.5, 4.0, 4.5]
x2_yticks = [4, 5, 6, 7, 8, 9, 10]


def to_dates(days):
    return start_date + np.asarray(days).astype("timedelta64[D]")


def unpack(series):
    cols = list(zip(*series))
    return [to_dates(cols[0])] + [np.asarray(c, dtype=float) for c in cols[1:]]


plt.rcParams.update({
    "axes.facecolor": "#eeeeee",
    "figure.facecolor": "white",
    "axes.grid": True,
    "grid.color": "white",
    "grid.linewidth": 1.0,
    "axes.axisbelow": True,
    "xtick.major.size": 0,
    "ytick.major.size": 0,
    "xtick.major.pad": 5,
    "ytick.major.pad": 5,
    "xtick.labelsize": 14.5,
    "ytick.labelsize": 14.5,
    "text.color": "#222222",
    "xtick.color": "#222222",
    "ytick.color": "#222222",
    "axes.labelcolor": "#222222",
})

fig, axes = plt.subplots(2, 1, figsize=(14.115, 10.115), dpi=200, sharex=True)
fig.subplots_adjust(left=0.0328, right=0.9919, top=0.9525, bottom=0.0593, hspace=0.036)

panels = [
    (axes[0], x1_mean, x1_band, x1_real, "blue", "x1", x1_yticks),
    (axes[1], x2_mean, x2_band, x2_real, "orange", "x2", x2_yticks),
]

for ax, mean, band, real, color, name, yticks in panels:
    md, mv = unpack(mean)
    bd, lo, hi = unpack(band)
    rd, rv = unpack(real)
    ax.plot(md, mv, color=color, linestyle="--", linewidth=1.5, label=f"Mean Recover {name} Effect")
    ax.fill_between(bd, lo, hi, color=color, alpha=0.2, label="95% Credible Interval")
    ax.plot(rd, rv, color="black", linewidth=1.7, label=f"Real {name} Effect")
    ax.set_yticks(yticks)
    for side in ax.spines.values():
        side.set_visible(False)
    ax.legend(loc="lower right", frameon=False, fontsize=14)

axes[1].xaxis.set_major_locator(mdates.MonthLocator(bymonth=[1, 5, 9]))
axes[1].xaxis.set_major_formatter(mdates.DateFormatter("%Y-%m"))
axes[1].set_xlabel("date", fontsize=14.5)

fig.suptitle("Media Contribution Recovery", fontsize=18, fontweight="bold", y=0.992)

fig.savefig("out.png", dpi=200)
